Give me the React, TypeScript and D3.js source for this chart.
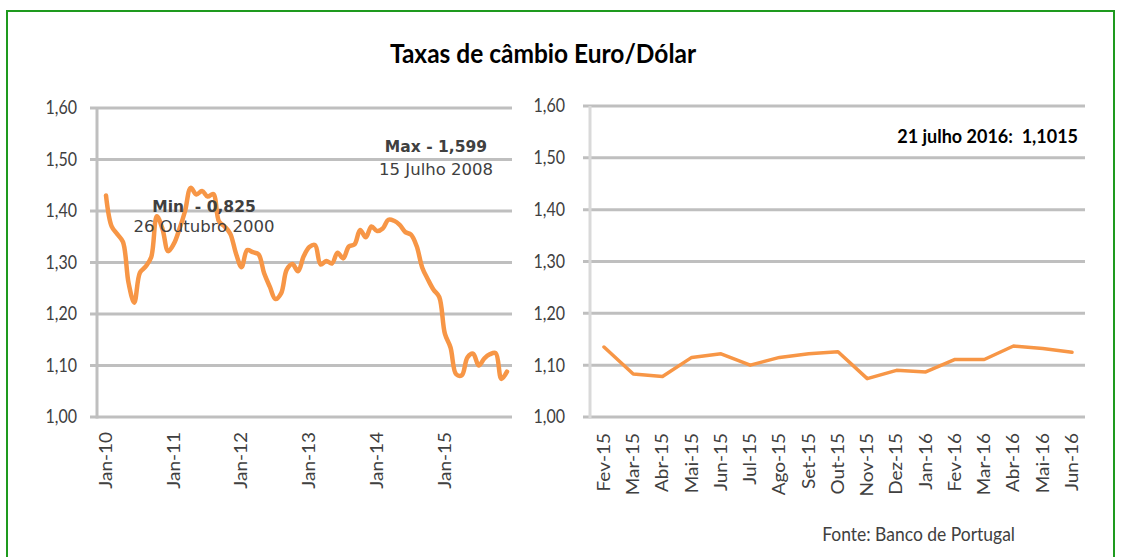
import React from "react";
import * as d3 from "d3";

const TITLE = "Taxas de câmbio Euro/Dólar";
const SOURCE = "Fonte: Banco de Portugal";

// Left panel: monthly averages Jan-2010 .. Dec-2015
const longValues: number[] = [
  1.43, 1.37, 1.355, 1.34, 1.26, 1.222, 1.28, 1.292, 1.31, 1.39, 1.365, 1.322,
  1.336, 1.365, 1.4, 1.445, 1.432, 1.439, 1.428, 1.433, 1.38, 1.37, 1.356, 1.318,
  1.291, 1.324, 1.32, 1.316, 1.279, 1.253, 1.229, 1.24, 1.286, 1.297, 1.283, 1.312,
  1.33, 1.334, 1.296, 1.303, 1.298, 1.319, 1.308, 1.331, 1.335, 1.363, 1.349, 1.37,
  1.361, 1.366, 1.383, 1.381, 1.373, 1.359, 1.354, 1.332, 1.29, 1.267, 1.247, 1.233,
  1.162, 1.135, 1.083, 1.081, 1.116, 1.123, 1.1, 1.114, 1.122, 1.124, 1.074, 1.088,
];
const longTickIdx = [0, 12, 24, 36, 48, 60];
const longTickLabels = ["Jan-10", "Jan-11", "Jan-12", "Jan-13", "Jan-14", "Jan-15"];

// Right panel: Feb-2015 .. Jun-2016
const shortLabels = [
  "Fev-15", "Mar-15", "Abr-15", "Mai-15", "Jun-15", "Jul-15", "Ago-15", "Set-15",
  "Out-15", "Nov-15", "Dez-15", "Jan-16", "Fev-16", "Mar-16", "Abr-16", "Mai-16", "Jun-16",
];
const shortValues: number[] = [
  1.135, 1.083, 1.078, 1.115, 1.122, 1.1, 1.115, 1.122, 1.126, 1.074, 1.09, 1.087,
  1.111, 1.111, 1.137, 1.132, 1.125,
];

const yTicks = [1.0, 1.1, 1.2, 1.3, 1.4, 1.5, 1.6];
const fmt = (v: number) => v.toFixed(2).replace(".", ",");

const maxLabel = "Max - 1,599";
const maxDate = "15 Julho 2008";
const minLabel = "Min  - 0,825";
const minDate = "26 Outubro 2000";
const lastLabel = "21 julho 2016:  1,1015";

const ORANGE = "#F79646";
const GRID = "#BFBFBF";
const LABEL = "#404040";
const SANS = "Lato, 'Open Sans', sans-serif";
const VERD = "'DejaVu Sans', Verdana, sans-serif";
const STRETCH = 1.15;

export default function App() {
  const xL = d3.scaleLinear().domain([0, longValues.length - 1]).range([106, 507]);
  const yL = d3.scaleLinear().domain([1.0, 1.6]).range([417, 108]);
  const xR = d3.scalePoint<string>().domain(shortLabels).range([604, 1072]);
  const yR = d3.scaleLinear().domain([1.0, 1.6]).range([417, 106]);

  const lineL = d3
    .line<number>()
    .x((_, i) => xL(i))
    .y((d) => yL(d))
    .curve(d3.curveCatmullRom.alpha(0.5));
  const lineR = d3
    .line<number>()
    .x((_, i) => xR(shortLabels[i]) as number)
    .y((d) => yR(d));

  return (
    <svg
      width={1128}
      height={557}
      style={{ position: "absolute", left: 0, top: 0, background: "#fff" }}
    >
      <rect x={0} y={0} width={1128} height={557} fill="#fff" />
      <rect x={7} y={11} width={1107} height={560} fill="none" stroke="#1E9A1E" strokeWidth={2} />

      <text transform={`translate(543,63) scale(1,1.05)`} textAnchor="middle" fontFamily={SANS} fontWeight={700} fontSize={24.5} fill="#000">
        {TITLE}
      </text>

      {/* Left panel */}
      {yTicks.map((t) => (
        <g key={"lg" + t}>
          <line x1={90} x2={512} y1={yL(t)} y2={yL(t)} stroke={GRID} strokeWidth={3} />
          <text transform={`translate(77,${yL(t)}) scale(1,${STRETCH})`} dy="0.35em" textAnchor="end" fontFamily={SANS} fontSize={16} fill={LABEL}>
            {fmt(t)}
          </text>
        </g>
      ))}
      <line x1={97} x2={97} y1={yL(1.6)} y2={yL(1.0) + 1.5} stroke={GRID} strokeWidth={3} />
      {longTickIdx.map((idx, k) => (
        <text
          key={"lt" + idx}
          transform={`translate(${xL(idx)},432) scale(1,${STRETCH}) rotate(-90)`}
          dy="0.35em"
          textAnchor="end"
          fontFamily={SANS}
          fontSize={16.5}
          fill={LABEL}
        >
          {longTickLabels[k]}
        </text>
      ))}
      <path d={lineL(longValues) || ""} fill="none" stroke={ORANGE} strokeWidth={4.5} strokeLinejoin="round" strokeLinecap="round" />

      <text x={204} y={212} textAnchor="middle" fontFamily={VERD} fontWeight={700} fontSize={15.5} fill={LABEL} style={{ whiteSpace: "pre" }}>
        {minLabel}
      </text>
      <text x={204} y={232} textAnchor="middle" fontFamily={VERD} fontSize={16.5} fill={LABEL}>
        {minDate}
      </text>
      <text x={487} y={152} textAnchor="end" fontFamily={VERD} fontWeight={700} fontSize={15.5} fill={LABEL}>
        {maxLabel}
      </text>
      <text x={493} y={175} textAnchor="end" fontFamily={VERD} fontSize={16.5} fill={LABEL}>
        {maxDate}
      </text>

      {/* Right panel */}
      {yTicks.map((t) => (
        <g key={"rg" + t}>
          <line x1={583} x2={1085} y1={yR(t)} y2={yR(t)} stroke={GRID} strokeWidth={3} />
          <text transform={`translate(565,${yR(t)}) scale(1,${STRETCH})`} dy="0.35em" textAnchor="end" fontFamily={SANS} fontSize={16} fill={LABEL}>
            {fmt(t)}
          </text>
        </g>
      ))}
      <line x1={590} x2={590} y1={yR(1.6)} y2={yR(1.0) + 1.5} stroke="#D9D9D9" strokeWidth={3} />
      {shortLabels.map((lab) => (
        <text
          key={"rt" + lab}
          transform={`translate(${xR(lab)},433) scale(1,${STRETCH}) rotate(-90)`}
          dy="0.35em"
          textAnchor="end"
          fontFamily={SANS}
          fontSize={16.5}
          fill={LABEL}
        >
          {lab}
        </text>
      ))}
      <path d={lineR(shortValues) || ""} fill="none" stroke={ORANGE} strokeWidth={3.5} strokeLinejoin="round" strokeLinecap="round" />

      <text transform={`translate(1078,143) scale(1,1.05)`} textAnchor="end" fontFamily={SANS} fontWeight={700} fontSize={18} fill="#000" style={{ whiteSpace: "pre" }}>
        {lastLabel}
      </text>

      <text transform={`translate(1015,541) scale(1,1.1)`} textAnchor="end" fontFamily={SANS} fontSize={17.5} fill={LABEL}>
        {SOURCE}
      </text>
    </svg>
  );
}
